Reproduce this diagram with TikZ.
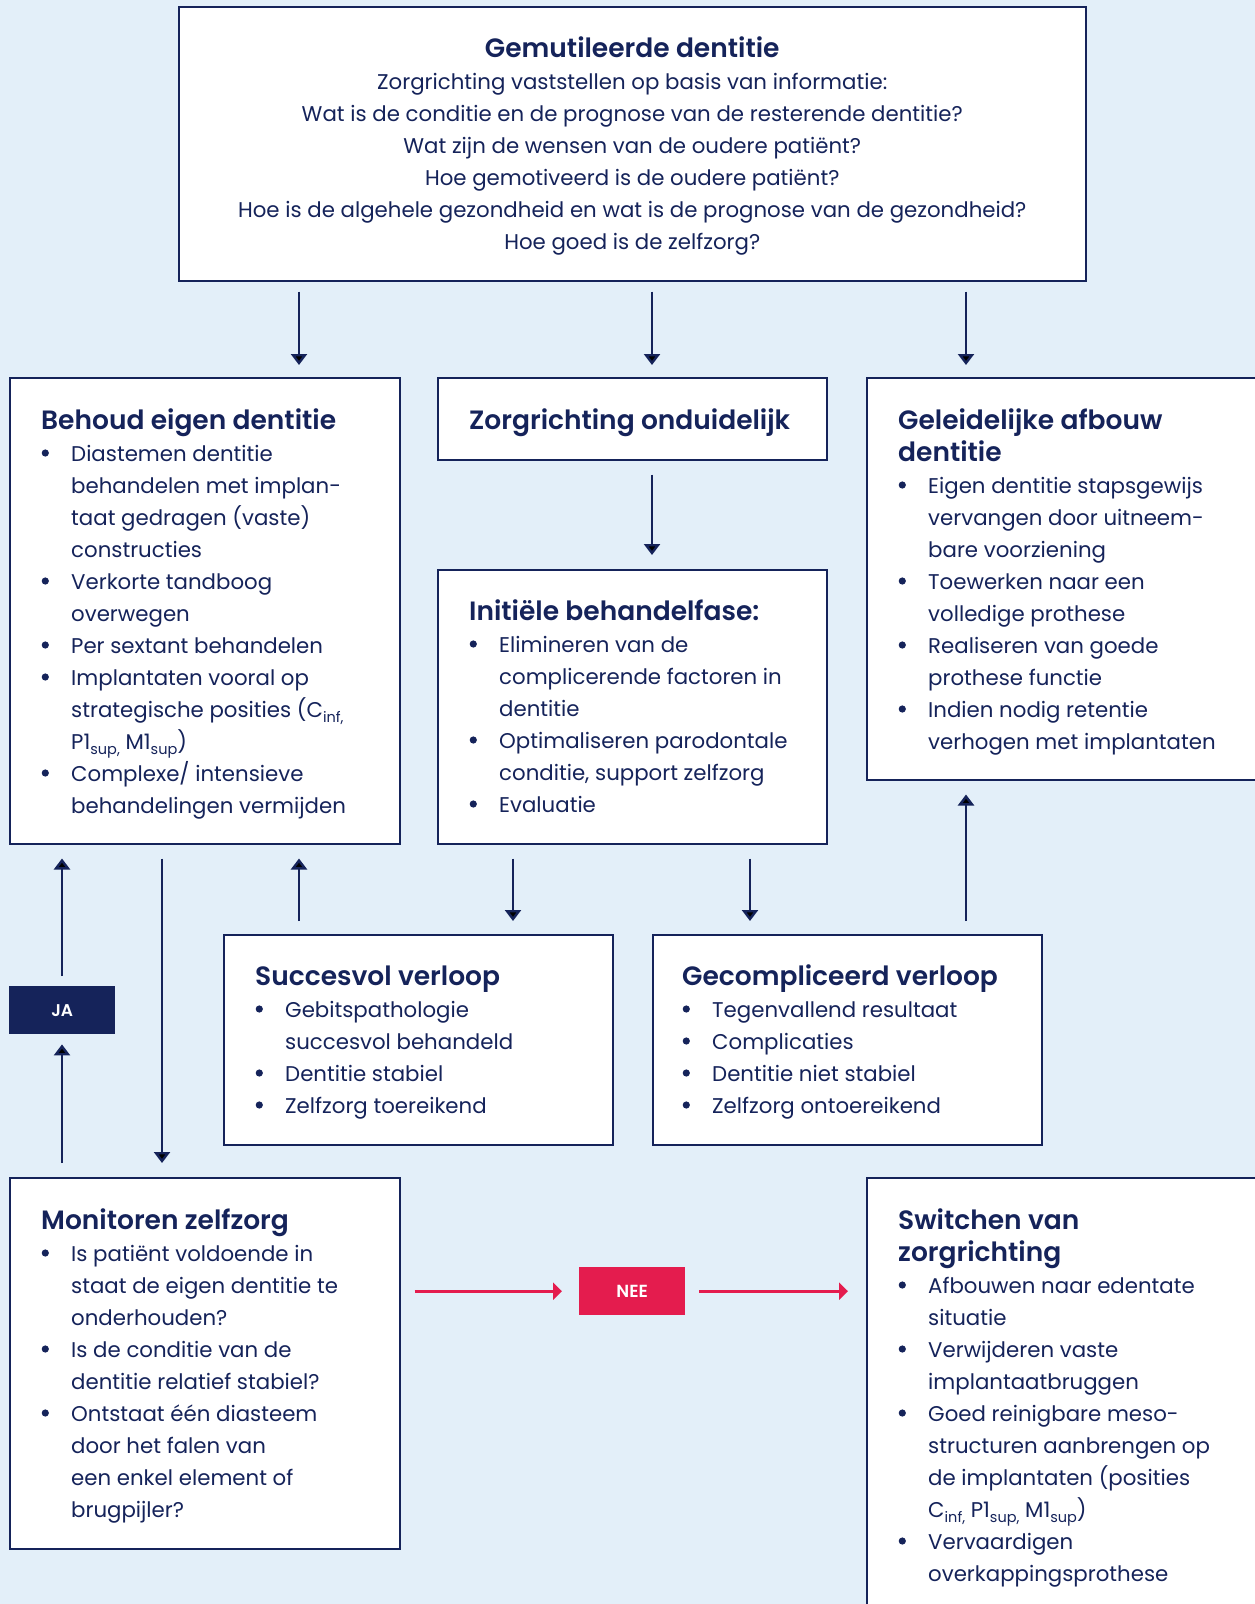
\documentclass[tikz,border=0pt]{standalone}
\usepackage{fontspec}
\setmainfont{Poppins}[BoldFont={* SemiBold}]
\usetikzlibrary{arrows.meta,calc}
\definecolor{navy}{RGB}{21,35,90}
\definecolor{bgblue}{RGB}{227,239,249}
\definecolor{nred}{RGB}{228,28,78}
\newcommand\bodyf{\fontsize{21.3}{32}\selectfont}
\newcommand\titf{\fontsize{26.5}{32}\selectfont\bfseries}
\newcommand\dotmark{\tikz{\fill[navy] (0pt,0pt) circle[radius=3.6pt];}}
\newcommand\bl{\makebox[30pt][l]{\hspace{0.5pt}\raisebox{4.4pt}{\dotmark}}}
\newcommand\ind{\hspace*{30pt}}
\newcommand\sub[1]{\raisebox{-5pt}{\fontsize{14.5}{14.5}\selectfont #1}}
\newcommand\blk[1]{\vtop{\hsize=600pt\parindent=0pt\parskip=0pt\bodyf\lineskiplimit=-100pt\raggedright #1\par}}
\newcommand\cblk[1]{\vtop{\hsize=907pt\parindent=0pt\parskip=0pt\bodyf\lineskiplimit=-100pt\centering #1\par}}
\tikzset{
  box/.style={draw=navy, line width=1.5pt, fill=white, inner sep=0pt, anchor=north west},
  txt/.style={inner sep=0pt, text=navy, anchor=base west},
  arr/.style={draw=navy, line width=2.4pt, -{Triangle[length=11pt,width=16pt]}},
  rarr/.style={draw=nred, line width=2.8pt, -{Triangle[length=9pt,width=17pt]}},
  tag/.style={inner sep=0pt, anchor=north west, text=white}
}
\begin{document}
\begin{tikzpicture}[x=1pt,y=-1pt]
\path[use as bounding box] (0,0) rectangle (1255,1604);
\clip (0,0) rectangle (1255,1604);
\fill[bgblue] (0,0) rectangle (1255,1604);

% boxes
\node[box, minimum width=907pt, minimum height=274pt] (top) at (178,6) {};
\node[box, minimum width=390pt, minimum height=466pt] (behoud) at (9,377) {};
\node[box, minimum width=389pt, minimum height=82pt] (onduid) at (437,377) {};
\node[box, minimum width=389pt, minimum height=274pt] (init) at (437,569) {};
\node[box, minimum width=392pt, minimum height=402pt] (geleid) at (866,377) {};
\node[box, minimum width=389pt, minimum height=210pt] (succ) at (223,934) {};
\node[box, minimum width=389pt, minimum height=210pt] (gecomp) at (652,934) {};
\node[box, minimum width=390pt, minimum height=371pt] (monitor) at (9,1177) {};
\node[box, minimum width=392pt, minimum height=450pt] (switch) at (866,1177) {};
\node[tag, fill=navy, minimum width=106pt, minimum height=48pt, font=\fontsize{17}{17}\selectfont\bfseries] (ja) at (9,986) {JA};
\node[tag, fill=nred, minimum width=106pt, minimum height=48pt, font=\fontsize{17.5}{17.5}\selectfont\bfseries] (nee) at (579,1267) {NEE};

% texts
\node[inner sep=0pt, text=navy, anchor=base] (toptxt) at ($(top.north)+(0,51)$) {\cblk{%
{\titf Gemutileerde dentitie}\\
Zorgrichting vaststellen op basis van informatie:\\
Wat is de conditie en de prognose van de resterende dentitie?\\
Wat zijn de wensen van de oudere patiënt?\\
Hoe gemotiveerd is de oudere patiënt?\\
Hoe is de algehele gezondheid en wat is de prognose van de gezondheid?\\
Hoe goed is de zelfzorg?}};

\node[txt] (behoudtxt) at ($(behoud.north west)+(32,52)$) {\blk{%
{\titf Behoud eigen dentitie}\\
\bl Diastemen dentitie\\
\ind behandelen met implan-\\
\ind taat gedragen (vaste)\\
\ind constructies\\
\bl Verkorte tandboog\\
\ind overwegen\\
\bl Per sextant behandelen\\
\bl Implantaten vooral op\\
\ind strategische posities (C\sub{inf,}\\
\ind P1\sub{sup,} M1\sub{sup})\\
\bl Complexe/ intensieve\\
\ind behandelingen vermijden}};

\node[txt] (onduidtxt) at ($(onduid.north west)+(32,52)$) {\blk{{\titf Zorgrichting onduidelijk}}};

\node[txt] (inittxt) at ($(init.north west)+(32,51)$) {\blk{%
{\titf Initiële behandelfase:}\\
\bl Elimineren van de\\
\ind complicerende factoren in\\
\ind dentitie\\
\bl Optimaliseren parodontale\\
\ind conditie, support zelfzorg\\
\bl Evaluatie}};

\node[txt] (geleidtxt) at ($(geleid.north west)+(32,52)$) {\blk{%
{\titf Geleidelijke afbouw}\\
{\titf dentitie}\\
\bl Eigen dentitie stapsgewijs\\
\ind vervangen door uitneem-\\
\ind bare voorziening\\
\bl Toewerken naar een\\
\ind volledige prothese\\
\bl Realiseren van goede\\
\ind prothese functie\\
\bl Indien nodig retentie\\
\ind verhogen met implantaten}};

\node[txt] (succtxt) at ($(succ.north west)+(32,51)$) {\blk{%
{\titf Succesvol verloop}\\
\bl Gebitspathologie\\
\ind succesvol behandeld\\
\bl Dentitie stabiel\\
\bl Zelfzorg toereikend}};

\node[txt] (gecomptxt) at ($(gecomp.north west)+(30,51)$) {\blk{%
{\titf Gecompliceerd verloop}\\
\bl Tegenvallend resultaat\\
\bl Complicaties\\
\bl Dentitie niet stabiel\\
\bl Zelfzorg ontoereikend}};

\node[txt] (monitortxt) at ($(monitor.north west)+(32,52)$) {\blk{%
{\titf Monitoren zelfzorg}\\
\bl Is patiënt voldoende in\\
\ind staat de eigen dentitie te\\
\ind onderhouden?\\
\bl Is de conditie van de\\
\ind dentitie relatief stabiel?\\
\bl Ontstaat één diasteem\\
\ind door het falen van\\
\ind een enkel element of\\
\ind brugpijler?}};

\node[txt] (switchtxt) at ($(switch.north west)+(32,52)$) {\blk{%
{\titf Switchen van}\\
{\titf zorgrichting}\\
\bl Afbouwen naar edentate\\
\ind situatie\\
\bl Verwijderen vaste\\
\ind implantaatbruggen\\
\bl Goed reinigbare meso-\\
\ind structuren aanbrengen op\\
\ind de implantaten (posities\\
\ind C\sub{inf,} P1\sub{sup,} M1\sub{sup})\\
\bl Vervaardigen\\
\ind overkappingsprothese}};

% connector columns
\coordinate (c62) at (62,0);
\coordinate (c162) at (162,0);
\coordinate (c299) at (299,0);
\coordinate (c513) at (513,0);
\coordinate (c652) at (652,0);
\coordinate (c750) at (750,0);
\coordinate (c966) at (966,0);

\draw[arr] ($(top.south -| c299)+(0,10)$) -- ($(behoud.north -| c299)+(0,-12)$);
\draw[arr] ($(top.south -| c652)+(0,10)$) -- ($(onduid.north -| c652)+(0,-12)$);
\draw[arr] ($(top.south -| c966)+(0,10)$) -- ($(geleid.north -| c966)+(0,-12)$);
\draw[arr] ($(onduid.south -| c652)+(0,14)$) -- ($(init.north -| c652)+(0,-14)$);
\draw[arr] ($(ja.north -| c62)+(0,-10)$) -- ($(behoud.south -| c62)+(0,14)$);
\draw[arr] ($(monitor.north -| c62)+(0,-14)$) -- ($(ja.south -| c62)+(0,10)$);
\draw[arr] ($(behoud.south -| c162)+(0,14)$) -- ($(monitor.north -| c162)+(0,-14)$);
\draw[arr] ($(succ.north -| c299)+(0,-13)$) -- ($(behoud.south -| c299)+(0,14)$);
\draw[arr] ($(init.south -| c513)+(0,14)$) -- ($(succ.north -| c513)+(0,-13)$);
\draw[arr] ($(init.south -| c750)+(0,14)$) -- ($(gecomp.north -| c750)+(0,-13)$);
\draw[arr] ($(gecomp.north -| c966)+(0,-13)$) -- ($(geleid.south -| c966)+(0,14)$);
\draw[rarr] ($(monitor.east |- nee.west)+(14,0)$) -- ($(nee.west)+(-17,0)$);
\draw[rarr] ($(nee.east)+(14,0)$) -- ($(switch.west |- nee.east)+(-18,0)$);
\end{tikzpicture}
\end{document}
